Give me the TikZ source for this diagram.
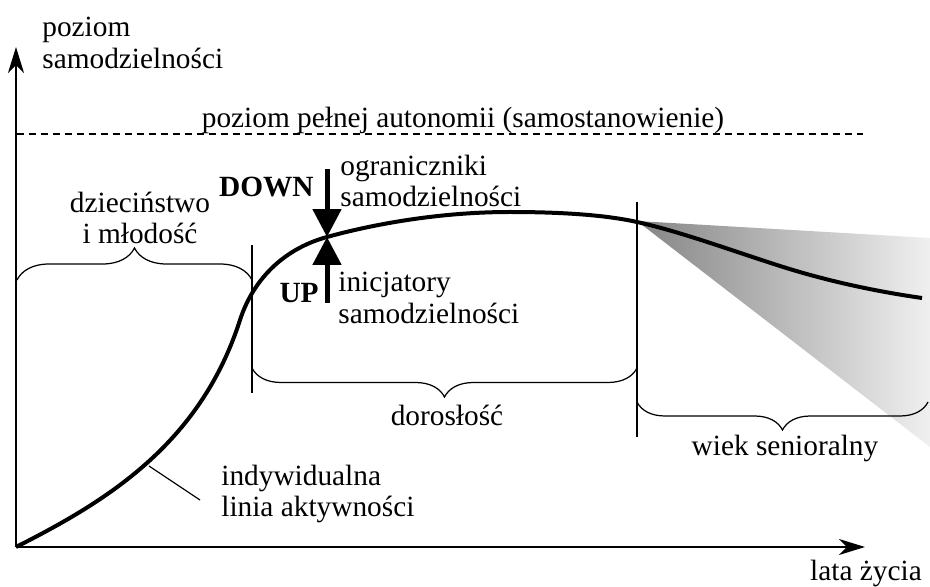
\documentclass[tikz,border=0pt]{standalone}
\usepackage{fontspec}
\setmainfont{Liberation Serif}
\usetikzlibrary{arrows.meta,decorations.pathreplacing}
\def\txt{\fontsize{16.7pt}{18pt}\selectfont}
\tikzset{
	lbl/.style={font=\txt, inner sep=0pt, align=left},
	boldlbl/.style={font=\txt\bfseries, inner sep=0pt},
	axis/.style={line width=0.04cm, -{Stealth[length=0.52cm, width=0.32cm, inset=0.16cm]}},
	curly/.style={decorate, decoration={brace, amplitude=#1}, line width=0.7pt},
	push/.style={line width=0.1cm, -{Triangle[length=0.56cm, width=0.56cm]}}
}

\begin{document}
\begin{tikzpicture}[x=0.02cm, y=-0.02cm]
		%%%%% START %%%%%
		\useasboundingbox (0,0) rectangle (930,587);
		
		\shade[left color=black!48, right color=black!6] (637,221) -- (930,238) -- (930,447) -- cycle;
		
		\coordinate (o) at (16,547);
		\coordinate (ytop) at (16,47);
		\coordinate (xend) at (865,547);
		\draw[axis] (o) -- (ytop);
		\draw[axis] (o) -- (xend);
		\draw[line width=0.03cm, dash pattern=on 0.14cm off 0.1cm] (17,134) -- (863,134);
		
		\coordinate (meet) at (327,237);
		\draw[line width=0.08cm] (o) .. controls (105,502) and (200,445) .. (240,320)
			.. controls (252,283) and (280,250) .. (meet)
			.. controls (374,224) and (440,212) .. (510,212)
			.. controls (570,212) and (610,216) .. (637,222)
			.. controls (680,231.5) and (730,250) .. (780,266)
			.. controls (830,282) and (880,292) .. (922,298);
		
		\coordinate (c1) at (149,466);
		\coordinate (dtop) at (327,169);
		\coordinate (ubot) at (327,303);
		
		\draw[line width=0.7pt] (252,245) -- (252,393);
		\draw[line width=0.7pt] (637,202) -- (637,437);
		\draw[curly=0.64cm] (17,280) -- (252,280);
		\draw[curly=0.58cm] (637,368) -- (252,368);
		\draw[curly=0.56cm] (928,402) -- (637,402);
		
		\draw[push] (dtop) -- (meet);
		\draw[push] (ubot) -- (meet);
		
		\node[lbl, anchor=west] (ylab) at (42,43) {poziom\\samodzielności};
		\node[lbl] (auto) at (463,120) {poziom pełnej autonomii (samostanowienie)};
		\node[lbl, align=center] (mlod) at (140,218) {dzieciństwo\\i młodość};
		\node[boldlbl, anchor=east] (down) at (314,187) {DOWN};
		\node[lbl, anchor=west] (ogr) at (340,181) {ograniczniki\\samodzielności};
		\node[boldlbl, anchor=east] (up) at (319,293) {UP};
		\node[lbl, anchor=west] (inic) at (338,298) {inicjatory\\samodzielności};
		\node[lbl] (dor) at (447,415) {dorosłość};
		\node[lbl] (sen) at (785,448) {wiek senioralny};
		\node[lbl, anchor=west] (akt) at (221,494) {indywidualna\\linia aktywności};
		\node[lbl] (lata) at (866,573) {lata życia};
		
		\draw[line width=0.7pt] (c1) -- ([xshift=-0.42cm, yshift=-0.12cm]akt.west);
		%%%%% END %%%%%
\end{tikzpicture}
\end{document}
